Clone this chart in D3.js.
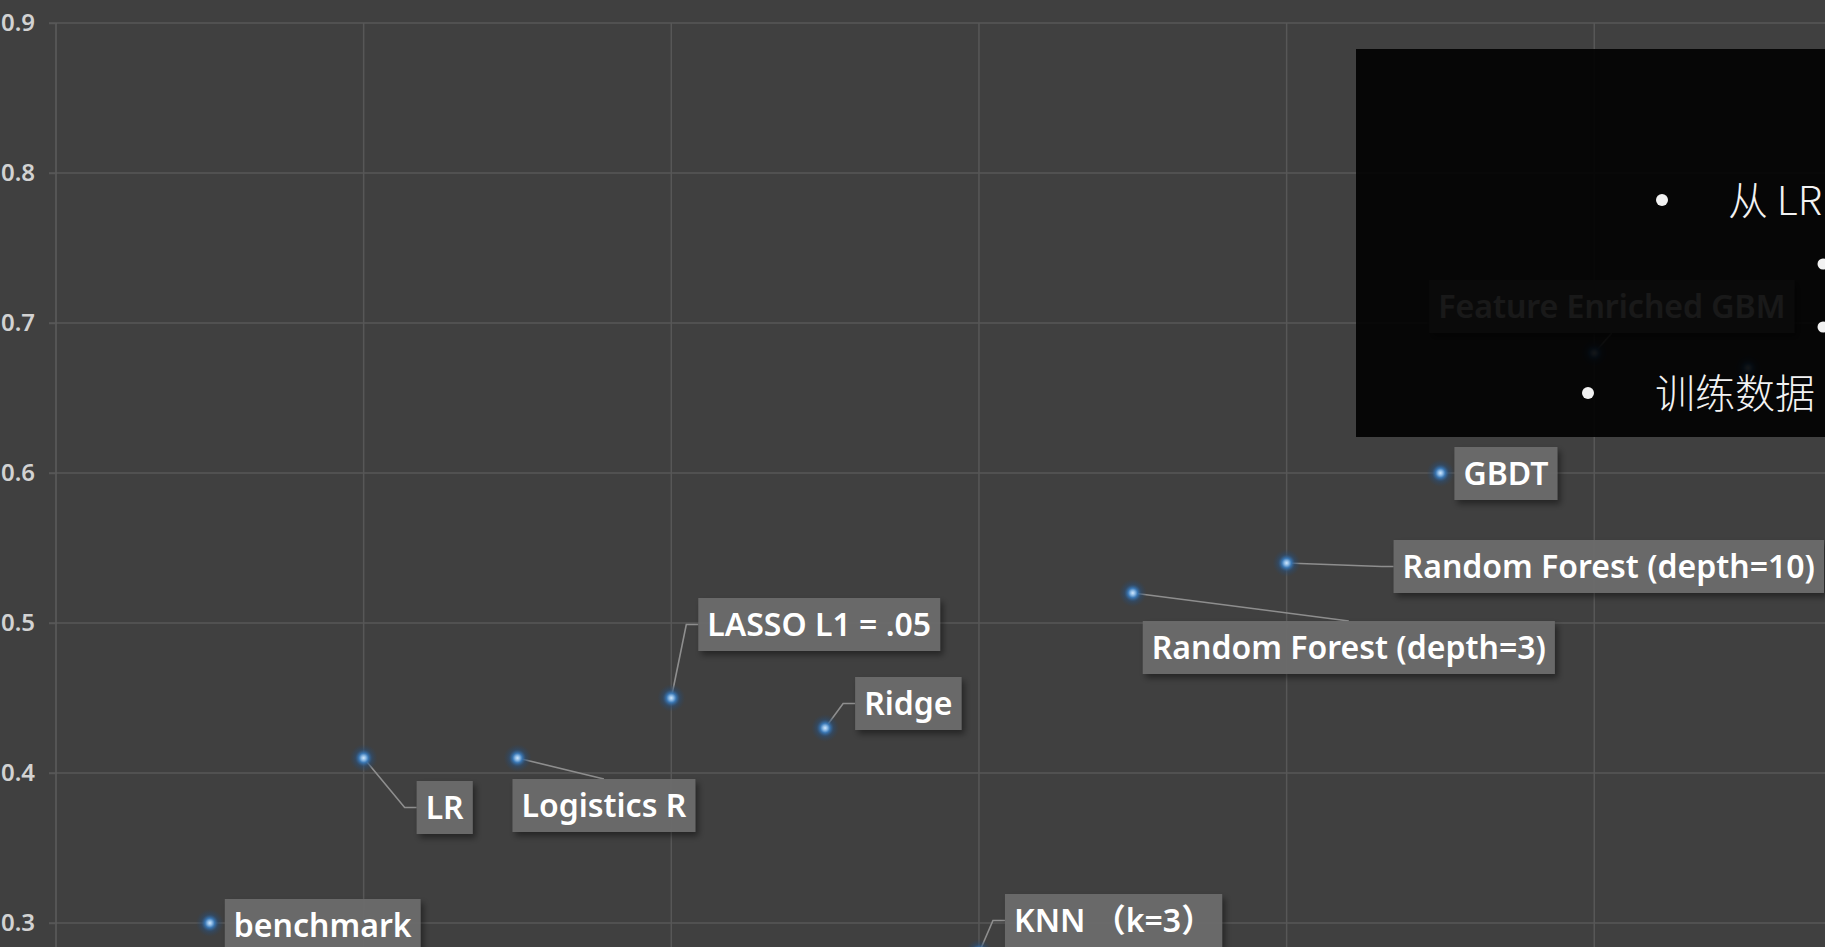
<!DOCTYPE html>
<html>
<head>
<meta charset="utf-8">
<script src="https://cdn.jsdelivr.net/npm/d3@7"></script>
<style>
  html, body { margin: 0; padding: 0; background: #404040; overflow: hidden; }
  svg { display: block; }
</style>
</head>
<body>
<svg id="chart" width="1825" height="947"></svg>
<script>
// model names, x position (run order) and score
const models = ["benchmark", "LR", "Logistics R", "LASSO L1 = .05", "Ridge", "KNN \uff08k=3\uff09",
    "Random Forest (depth=3)", "Random Forest (depth=10)", "GBDT", "Feature Enriched GBM", ""];
const order = [1, 2, 3, 4, 5, 6, 7, 8, 9, 10, 11];
const scores = [0.30, 0.41, 0.41, 0.45, 0.43, 0.28, 0.52, 0.54, 0.60, 0.68, 0.67];
const yTicks = [0.3, 0.4, 0.5, 0.6, 0.7, 0.8, 0.9];
const xTicks = [2, 4, 6, 8, 10];

// slide overlay text (partly cut by the frame)
const overlayLines = [
    {level: 1, text: "从 LR"},
    {level: 2, text: ""},
    {level: 2, text: ""},
    {level: 0, text: "训练数据"}
];

// where each label box sits relative to its point, and how the leader is drawn
const labelPlacement = [
    {dx: 15, dy: -24, link: "none"},
    {dx: 53, dy: 23, link: "elbow"},
    {dx: -5, dy: 21, link: "top"},
    {dx: 27, dy: -100, link: "elbow"},
    {dx: 30, dy: -51, link: "elbow"},
    {dx: 26, dy: -59, link: "elbow"},
    {dx: 10, dy: 28, link: "top"},
    {dx: 107, dy: -23, link: "elbow"},
    {dx: 14, dy: -26, link: "none"},
    {dx: -165, dy: -73, link: "bottom"},
    null
];

const W = 1825, H = 947;
const svg = d3.select("#chart");

let x = d3.scaleLinear().domain([0, 11.5]).range([56, W]);
let y = d3.scaleLinear().domain([0.3, 0.9]).range([923, 23]);

let defs = svg.append("defs");
let glow = defs.append("radialGradient").attr("id", "dotGlow");
glow.append("stop").attr("offset", "0%").attr("stop-color", "#d0e6fb");
glow.append("stop").attr("offset", "16%").attr("stop-color", "#8dbbe6");
glow.append("stop").attr("offset", "34%").attr("stop-color", "#3a76b2");
glow.append("stop").attr("offset", "60%").attr("stop-color", "#2a4f78").attr("stop-opacity", 0.55);
glow.append("stop").attr("offset", "100%").attr("stop-color", "#2a4460").attr("stop-opacity", 0);

let shadow = defs.append("filter").attr("id", "boxShadow")
    .attr("x", "-10%").attr("y", "-20%").attr("width", "130%").attr("height", "160%");
shadow.append("feDropShadow").attr("dx", 3).attr("dy", 4).attr("stdDeviation", 3)
    .attr("flood-color", "#000").attr("flood-opacity", 0.45);

svg.append("rect").attr("width", W).attr("height", H).attr("fill", "#404040");

// grid
let grid = svg.append("g");
grid.selectAll(".hgrid").data(yTicks).enter().append("line")
    .attr("x1", x(0) - 7).attr("x2", W)
    .attr("y1", d => y(d)).attr("y2", d => y(d))
    .attr("stroke", "#575757").attr("stroke-width", 1.5);
grid.selectAll(".vgrid").data(xTicks).enter().append("line")
    .attr("x1", d => x(d)).attr("x2", d => x(d))
    .attr("y1", y(0.9)).attr("y2", H)
    .attr("stroke", "#575757").attr("stroke-width", 1.5);

// y axis
let yAxis = svg.append("g")
    .attr("transform", "translate(" + x(0) + ",0)")
    .call(d3.axisLeft(y).tickValues(yTicks).tickFormat(d3.format(".1f")).tickSize(7).tickPadding(14));
yAxis.select(".domain").attr("stroke", "#5c5c5c").attr("stroke-width", 1.5)
    .attr("d", "M0," + y(0.9) + "V" + H);
yAxis.selectAll(".tick line").attr("stroke", "#575757").attr("stroke-width", 1.5);
yAxis.selectAll(".tick text")
    .attr("fill", "#d2d2d2")
    .style("font-family", "'Noto Sans', 'DejaVu Sans', sans-serif")
    .style("font-size", "24px").style("font-weight", 600);

let pts = models.map((name, i) => ({name: name, px: x(order[i]), py: y(scores[i]), place: labelPlacement[i]}));

// label boxes + leaders
let labels = svg.append("g");
pts.forEach(p => {
    if (!p.place) return;
    let g = labels.append("g");
    let bx = p.px + p.place.dx, by = p.py + p.place.dy, bh = 53, pad = 9;
    let leader = g.append("path").attr("fill", "none").attr("stroke", "#8e8e8e").attr("stroke-width", 1.6);
    let rect = g.append("rect").attr("x", bx).attr("y", by).attr("height", bh)
        .attr("fill", "#6b6b6b").attr("fill-opacity", 0.95).attr("filter", "url(#boxShadow)");
    let t = g.append("text").attr("x", bx + pad).attr("y", by + bh / 2 + 11.5)
        .attr("fill", "#ffffff")
        .style("font-family", "'Noto Sans', 'Noto Sans CJK SC', sans-serif")
        .style("font-size", "32px").style("font-weight", 600)
        .text(p.name);
    let bw = t.node().getComputedTextLength() + pad * 2;
    rect.attr("width", bw);
    let cy = by + bh / 2;
    if (p.place.link === "elbow") {
        leader.attr("d", "M" + p.px + "," + p.py + "L" + (bx - 12) + "," + cy + "H" + bx);
    } else if (p.place.link === "top") {
        leader.attr("d", "M" + p.px + "," + p.py + "L" + (bx + bw / 2) + "," + by);
    } else if (p.place.link === "bottom") {
        leader.attr("d", "M" + p.px + "," + p.py + "L" + (bx + bw / 2) + "," + (by + bh));
    }
});

// points
svg.append("g").selectAll("circle").data(pts).enter().append("circle")
    .attr("cx", d => d.px).attr("cy", d => d.py).attr("r", 14)
    .attr("fill", "url(#dotGlow)");

// dark slide overlay on the top right
let ov = svg.append("g");
ov.append("rect").attr("x", 1356).attr("y", 49).attr("width", W - 1356).attr("height", 388)
    .attr("fill", "#000").attr("fill-opacity", 0.9);

let bulletX = {0: 1588, 1: 1662, 2: 1823};
let textX = {0: 1655, 1: 1728, 2: 1880};
let lineY = [200, 264, 327, 393];
overlayLines.forEach((l, i) => {
    ov.append("circle").attr("cx", bulletX[l.level]).attr("cy", lineY[i])
        .attr("r", l.level === 2 ? 5.5 : 6).attr("fill", "#f2f2f2");
    if (l.text) {
        ov.append("text").attr("x", textX[l.level]).attr("y", lineY[i] + 15)
            .attr("fill", "#f2f2f2")
            .style("font-family", "'Noto Sans CJK SC', 'Noto Sans', sans-serif")
            .style("font-size", "40px").style("font-weight", 300)
            .text(l.text);
    }
});
</script>
</body>
</html>
